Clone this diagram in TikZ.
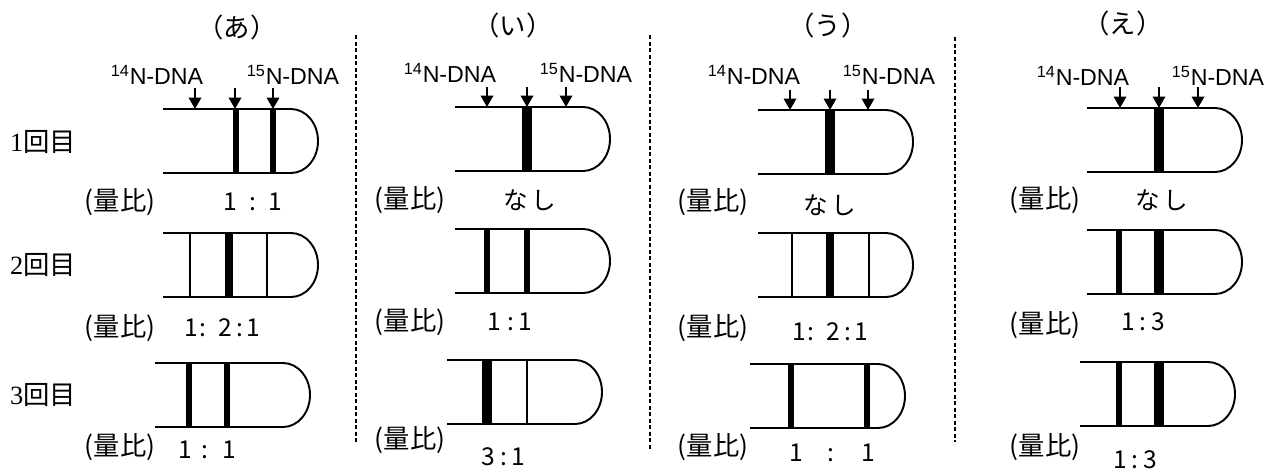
\documentclass[tikz,border=0pt]{standalone}
\usepackage{fontspec}
\setmainfont{Liberation Sans}
\newfontfamily\jpfont{Noto Sans CJK JP}
\newfontfamily\numfont{Liberation Serif}
\usetikzlibrary{arrows.meta}

\begin{document}
\begin{tikzpicture}
  [x=0.02cm, y=-0.02cm,
  tubeline/.style={draw, line width=1.1pt},
  thinband/.style={draw, line width=1.5pt},
  midband/.style={draw, line width=2.9pt},
  wideband/.style={draw, line width=4.5pt},
  fatband/.style={draw, line width=5.8pt},
  downarrow/.style={draw, -{Triangle[width=7pt, length=6.5pt]}, line width=1.4pt},
  divider/.style={draw, line width=1.1pt, dash pattern=on 2.3pt off 1.4pt},
  title/.style={font=\jpfont\fontsize{15}{17}\selectfont},
  dnalabel/.style={anchor=base, inner sep=0pt, font=\fontsize{13.2}{15}\selectfont},
  rowlabel/.style={font=\fontsize{15}{17}\selectfont},
  amount/.style={font=\jpfont\fontsize{15}{17}\selectfont},
  ratio/.style={font=\jpfont\fontsize{14}{16}\selectfont},
  tube/.pic={\path [tubeline] (0,0) -- (128,0) arc [start angle=-90, end angle=90, x radius=27, y radius=32] -- (0,64);}]
  \useasboundingbox (0,0) rectangle (1274,470);
  % titles and rows
  \node [title] (titleA) at (237,27) {（あ）};
  \node [title] (titleB) at (513,25) {（い）};
  \node [title] (titleC) at (828,25) {（う）};
  \node [title] (titleD) at (1123,23) {（え）};
  \node [rowlabel] (row1) at (43,142) {\numfont 1\jpfont 回目};
  \node [rowlabel] (row2) at (43,265) {\numfont 2\jpfont 回目};
  \node [rowlabel] (row3) at (43,395) {\numfont 3\jpfont 回目};
  % dividers
  \path [divider] (356,35) -- (356,442);
  \path [divider] (650,35) -- (650,450);
  \path [divider] (955,37) -- (955,442);
  % panel A
  \node [dnalabel] (lightA) at (157,84) {\textsuperscript{14}N-DNA};
  \node [dnalabel] (heavyA) at (293,84) {\textsuperscript{15}N-DNA};
  \path [downarrow] (195,88) -- (195,109);
  \path [downarrow] (235,88) -- (235,109);
  \path [downarrow] (273,88) -- (273,109);
  \pic at (163,109) {tube};
  \path [midband] (236,109) -- (236,173);
  \path [midband] (273,109) -- (273,173);
  \pic at (163,233) {tube};
  \path [thinband] (190,233) -- (190,297);
  \path [wideband] (229,233) -- (229,297);
  \path [thinband] (267,233) -- (267,297);
  \pic at (155,363) {tube};
  \path [midband] (189,363) -- (189,427);
  \path [midband] (227,363) -- (227,427);
  \node [amount] (amtA1) at (120,202) {(量比)};
  \node [amount] (amtA2) at (120,328) {(量比)};
  \node [amount] (amtA3) at (120,447) {(量比)};
  \node [ratio] (ratA1) at (253,202) {1\hspace{0.5em}:\hspace{0.5em}1};
  \node [ratio] (ratA2) at (222,328) {1\hspace{0.05em}:\hspace{0.5em}2\hspace{0.2em}:\hspace{0.1em}1};
  \node [ratio] (ratA3) at (207,450) {1\hspace{0.4em}:\hspace{0.55em}1};
  % panel B
  \node [dnalabel] (lightB) at (450,82) {\textsuperscript{14}N-DNA};
  \node [dnalabel] (heavyB) at (586,82) {\textsuperscript{15}N-DNA};
  \path [downarrow] (487,87) -- (487,107);
  \path [downarrow] (527,87) -- (527,107);
  \path [downarrow] (566,87) -- (566,107);
  \pic at (455,107) {tube};
  \path [fatband] (527,107) -- (527,171);
  \pic at (455,229) {tube};
  \path [midband] (487,229) -- (487,293);
  \path [midband] (527,229) -- (527,293);
  \pic at (447,360) {tube};
  \path [fatband] (487,360) -- (487,424);
  \path [thinband] (527,360) -- (527,424);
  \node [amount] (amtB1) at (410,200) {(量比)};
  \node [amount] (amtB2) at (410,322) {(量比)};
  \node [amount] (amtB3) at (410,440) {(量比)};
  \node [ratio] (ratB1) at (530,200) {な\hspace{0.15em}し};
  \node [ratio] (ratB2) at (510,322) {1\hspace{0.25em}:\hspace{0.2em}1};
  \node [ratio] (ratB3) at (503,457) {3\hspace{0.25em}:\hspace{0.15em}1};
  % panel C
  \node [dnalabel] (lightC) at (754,84) {\textsuperscript{14}N-DNA};
  \node [dnalabel] (heavyC) at (889,84) {\textsuperscript{15}N-DNA};
  \path [downarrow] (790,90) -- (790,110);
  \path [downarrow] (830,90) -- (830,110);
  \path [downarrow] (868,90) -- (868,110);
  \pic at (758,110) {tube};
  \path [fatband] (830,110) -- (830,174);
  \pic at (758,233) {tube};
  \path [thinband] (792,233) -- (792,297);
  \path [wideband] (830,233) -- (830,297);
  \path [thinband] (869,233) -- (869,297);
  \pic at (750,364) {tube};
  \path [midband] (791,364) -- (791,428);
  \path [midband] (867,364) -- (867,428);
  \node [amount] (amtC1) at (713,202) {(量比)};
  \node [amount] (amtC2) at (713,328) {(量比)};
  \node [amount] (amtC3) at (713,447) {(量比)};
  \node [ratio] (ratC1) at (830,205) {な\hspace{0.15em}し};
  \node [ratio] (ratC2) at (830,332) {1\hspace{0.05em}:\hspace{0.5em}2\hspace{0.2em}:\hspace{0.1em}1};
  \node [ratio] (ratC3) at (832,453) {1\hspace{1em}:\hspace{1.1em}1};
  % panel D
  \node [dnalabel] (lightD) at (1083,85) {\textsuperscript{14}N-DNA};
  \node [dnalabel] (heavyD) at (1218,85) {\textsuperscript{15}N-DNA};
  \path [downarrow] (1120,87) -- (1120,108);
  \path [downarrow] (1159,87) -- (1159,108);
  \path [downarrow] (1198,87) -- (1198,108);
  \pic at (1087,108) {tube};
  \path [fatband] (1159,108) -- (1159,172);
  \pic at (1087,230) {tube};
  \path [midband] (1119,230) -- (1119,294);
  \path [fatband] (1159,230) -- (1159,294);
  \pic at (1080,362) {tube};
  \path [midband] (1119,362) -- (1119,426);
  \path [fatband] (1159,362) -- (1159,426);
  \node [amount] (amtD1) at (1045,200) {(量比)};
  \node [amount] (amtD2) at (1045,325) {(量比)};
  \node [amount] (amtD3) at (1045,447) {(量比)};
  \node [ratio] (ratD1) at (1162,200) {な\hspace{0.15em}し};
  \node [ratio] (ratD2) at (1143,322) {1\hspace{0.2em}:\hspace{0.2em}3};
  \node [ratio] (ratD3) at (1135,460) {1\hspace{0.2em}:\hspace{0.2em}3};
\end{tikzpicture}
\end{document}
